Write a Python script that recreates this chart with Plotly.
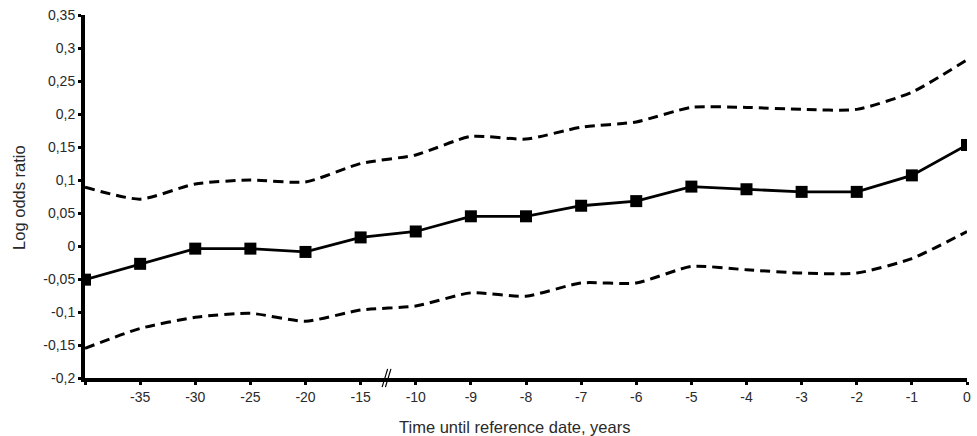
import plotly.graph_objects as go

# Years before the reference date (the -40 slot carries no label)
year_labels = ["", "-35", "-30", "-25", "-20", "-15", "-10", "-9", "-8",
               "-7", "-6", "-5", "-4", "-3", "-2", "-1", "0"]
log_odds = [-0.051, -0.027, -0.004, -0.004, -0.009, 0.013, 0.022, 0.045, 0.045,
            0.061, 0.068, 0.090, 0.086, 0.082, 0.082, 0.107, 0.153]
upper_ci = [0.089, 0.071, 0.094, 0.100, 0.097, 0.125, 0.138, 0.166, 0.162,
            0.180, 0.188, 0.210, 0.210, 0.207, 0.207, 0.233, 0.282]
lower_ci = [-0.155, -0.125, -0.108, -0.102, -0.114, -0.097, -0.091, -0.071, -0.076,
            -0.056, -0.056, -0.031, -0.036, -0.041, -0.041, -0.019, 0.022]
y_ticks = [-0.2, -0.15, -0.1, -0.05, 0, 0.05, 0.1, 0.15, 0.2, 0.25, 0.3, 0.35]
y_tick_labels = ["-0,2", "-0,15", "-0,1", "-0,05", "0", "0,05", "0,1", "0,15",
                 "0,2", "0,25", "0,3", "0,35"]

slots = list(range(len(year_labels)))

fig = go.Figure()
for band in (upper_ci, lower_ci):
    fig.add_trace(go.Scatter(
        x=slots, y=band, mode="lines",
        line=dict(color="black", width=3, dash="10px,6px", shape="spline", smoothing=0.6),
        hoverinfo="skip", showlegend=False,
    ))
fig.add_trace(go.Scatter(
    x=slots, y=log_odds, mode="lines+markers",
    line=dict(color="black", width=2.8),
    marker=dict(symbol="square", size=12, color="black"),
    showlegend=False,
))

# Axis break marker between -15 and -10
for dx in (0.0, 0.06):
    fig.add_shape(type="line", xref="x", yref="paper",
                  x0=5.39 + dx, x1=5.49 + dx, y0=-0.025, y1=0.025,
                  line=dict(color="black", width=1.2))

family = "Liberation Sans, Arial, sans-serif"
tick_font = dict(family=family, size=14, color="#2a2a2a")
title_font = dict(family=family, size=16.5, color="#2a2a2a")

# Axis titles
fig.add_annotation(text="Time until reference date, years", xref="paper", yref="paper",
                   x=0.4865, y=-0.135, xanchor="center", yanchor="middle",
                   showarrow=False, font=title_font)
fig.add_annotation(text="Log odds ratio", xref="paper", yref="paper",
                   x=-0.0756, y=0.497, xanchor="center", yanchor="middle",
                   textangle=-90, showarrow=False, font=title_font)

fig.update_layout(
    width=977, height=436,
    margin=dict(l=85, r=6, t=15, b=58),
    paper_bgcolor="white", plot_bgcolor="white",
    font=tick_font,
    xaxis=dict(
        range=[0, 16], tickmode="array", tickvals=slots, ticktext=year_labels,
        showline=True, linecolor="black", linewidth=4,
        ticks="outside", ticklen=3, tickwidth=2.5, tickcolor="black",
        showgrid=False, zeroline=False, tickfont=tick_font,
    ),
    yaxis=dict(
        range=[-0.2, 0.35], tickmode="array",
        tickvals=y_ticks, ticktext=y_tick_labels,
        showline=True, linecolor="black", linewidth=4,
        ticks="outside", ticklen=3, tickwidth=2.5, tickcolor="black",
        showgrid=False, zeroline=False, tickfont=tick_font,
    ),
)

fig.write_html("out.html")
